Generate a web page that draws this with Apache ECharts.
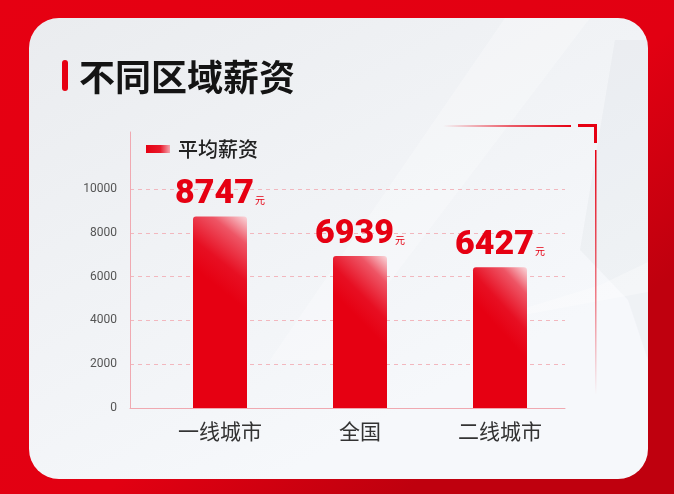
<!DOCTYPE html>
<html>
<head>
<meta charset="utf-8">
<script src="https://cdn.jsdelivr.net/npm/echarts@6/dist/echarts.min.js"></script>
<style>
  html, body { margin: 0; padding: 0; background: #e60012; }
  #chart { width: 674px; height: 494px; }
</style>
</head>
<body>
<div id="chart"></div>
<script>
// Average salary by region (yuan)
const categories = ['一线城市', '全国', '二线城市'];
const salaries = [8747, 6939, 6427];
const seriesName = '平均薪资';
const unit = '元';
const titleText = '不同区域薪资';
const yMin = 0;
const yMax = 10000;
const yStep = 2000;

const RED = '#e60012';
const CJK = '"Noto Sans CJK SC", "Noto Sans", sans-serif';

const chart = echarts.init(document.getElementById('chart'), null, { renderer: 'canvas' });

// bars: solid red with a soft light corner at the top right
const barGradient = {
  type: 'linear', x: 1, y: 0, x2: 0.15, y2: 0.3,
  colorStops: [
    { offset: 0, color: '#f9d9dd' },
    { offset: 0.3, color: '#ee5565' },
    { offset: 0.7, color: '#e70f22' },
    { offset: 1, color: '#e60012' }
  ]
};

const option = {
  backgroundColor: {
    type: 'linear', x: 0, y: 0, x2: 0.6, y2: 1,
    colorStops: [
      { offset: 0, color: '#e60012' },
      { offset: 0.7, color: '#e20012' },
      { offset: 1, color: '#bf000e' }
    ]
  },
  animation: false,
  graphic: [
    // white card
    {
      type: 'rect', z: -20, silent: true,
      shape: { x: 29, y: 18, width: 619, height: 461, r: 30 },
      style: {
        fill: {
          type: 'linear', x: 0, y: 0, x2: 0.4, y2: 1,
          colorStops: [
            { offset: 0, color: '#eaecef' },
            { offset: 0.5, color: '#f0f2f5' },
            { offset: 1, color: '#f6f8fb' }
          ]
        }
      }
    },
    // soft diagonal sheen across the card
    {
      type: 'polygon', z: -19, silent: true,
      shape: { points: [[505, 18], [590, 18], [330, 360], [270, 360]] },
      style: { fill: 'rgba(255,255,255,0.25)' }
    },
    {
      type: 'polygon', z: -19, silent: true,
      shape: { points: [[615, 40], [648, 40], [648, 360], [628, 300], [580, 250]] },
      style: { fill: 'rgba(200,204,212,0.14)' }
    },
    {
      type: 'polygon', z: -19, silent: true,
      shape: { points: [[600, 285], [648, 262], [648, 292], [470, 325]] },
      style: { fill: 'rgba(255,255,255,0.3)' }
    },
    // title accent bar
    {
      type: 'rect', z: 10, silent: true,
      shape: { x: 62, y: 60, width: 6, height: 31, r: 3 },
      style: { fill: RED }
    },
    // decorative frame corner, top right
    {
      type: 'rect', z: -5, silent: true,
      shape: { x: 443, y: 125, width: 128, height: 2 },
      style: {
        fill: {
          type: 'linear', x: 0, y: 0, x2: 1, y2: 0,
          colorStops: [
            { offset: 0, color: 'rgba(230,0,18,0)' },
            { offset: 0.5, color: 'rgba(230,0,18,0.6)' },
            { offset: 1, color: 'rgba(230,0,18,1)' }
          ]
        }
      }
    },
    {
      type: 'polyline', z: -5, silent: true,
      shape: { points: [[578, 125.5], [595.5, 125.5], [595.5, 143]] },
      style: { stroke: RED, lineWidth: 3, fill: null }
    },
    {
      type: 'rect', z: -5, silent: true,
      shape: { x: 595, y: 150, width: 1.5, height: 245 },
      style: {
        fill: {
          type: 'linear', x: 0, y: 0, x2: 0, y2: 1,
          colorStops: [
            { offset: 0, color: 'rgba(230,0,18,1)' },
            { offset: 0.6, color: 'rgba(230,0,18,0.5)' },
            { offset: 1, color: 'rgba(230,0,18,0)' }
          ]
        }
      }
    }
  ],
  title: {
    text: titleText,
    left: 79,
    top: 57,
    padding: 0,
    textStyle: {
      fontFamily: CJK,
      fontSize: 36,
      fontWeight: 'bold',
      color: '#141414',
      lineHeight: 40
    }
  },
  legend: {
    left: 146,
    top: 139,
    padding: 0,
    itemWidth: 24,
    itemHeight: 8,
    itemGap: 20,
    icon: 'rect',
    textStyle: { fontFamily: CJK, fontSize: 20, fontWeight: 500, color: '#222', padding: [0, 0, 0, 3] },
    data: [{
      name: seriesName,
      itemStyle: {
        color: {
          type: 'linear', x: 0, y: 0, x2: 1, y2: 0,
          colorStops: [
            { offset: 0, color: '#e60012' },
            { offset: 0.6, color: '#e8192b' },
            { offset: 1, color: '#f5a7b0' }
          ]
        }
      }
    }]
  },
  grid: [
    // value scale + split lines
    { left: 130, right: 109, top: 189, bottom: 86 },
    // tall axis line
    { left: 130, right: 109, top: 132, bottom: 86 },
    // bars
    { left: 150, right: 104, top: 189, bottom: 86 }
  ],
  xAxis: [
    {
      gridIndex: 0, type: 'category', data: categories,
      axisLine: { show: true, lineStyle: { color: '#f0a9b1', width: 1 } },
      axisTick: { show: false }, axisLabel: { show: false }, splitLine: { show: false }
    },
    {
      gridIndex: 1, type: 'category', data: categories, show: false
    },
    {
      gridIndex: 2, type: 'category', data: categories,
      axisLine: { show: false }, axisTick: { show: false },
      axisLabel: { show: true, margin: 13, fontFamily: CJK, fontSize: 21, color: '#333' }
    }
  ],
  yAxis: [
    {
      gridIndex: 0, type: 'value', min: yMin, max: yMax, interval: yStep,
      axisLine: { show: false }, axisTick: { show: false },
      axisLabel: {
        margin: 13, fontFamily: 'Roboto, sans-serif', fontSize: 12, color: '#555',
        formatter: function (v) { return String(v); }
      },
      splitLine: { show: true, lineStyle: { type: [4, 4], color: '#f2b7be', width: 1 } }
    },
    {
      gridIndex: 1, type: 'value', min: 0, max: 1,
      axisLine: { show: true, lineStyle: { color: '#f0a9b1', width: 1 } },
      axisTick: { show: false }, axisLabel: { show: false }, splitLine: { show: false }
    },
    {
      gridIndex: 2, type: 'value', min: yMin, max: yMax, interval: yStep, show: false
    }
  ],
  series: [{
    name: seriesName,
    type: 'bar',
    xAxisIndex: 2,
    yAxisIndex: 2,
    data: salaries,
    barWidth: 54,
    itemStyle: { color: barGradient, borderRadius: [3, 3, 0, 0] },
    label: {
      show: true,
      position: 'top',
      distance: 4,
      formatter: function (p) { return '{v|' + p.value + '}{u|' + unit + '}'; },
      rich: {
        v: { fontFamily: 'Roboto, "DejaVu Sans", sans-serif', fontWeight: 900, fontSize: 34, color: RED, lineHeight: 36 },
        u: { fontFamily: CJK, fontSize: 10, color: RED, padding: [12, 0, 0, 1], lineHeight: 12 }
      }
    }
  }]
};

chart.setOption(option);
</script>
</body>
</html>
